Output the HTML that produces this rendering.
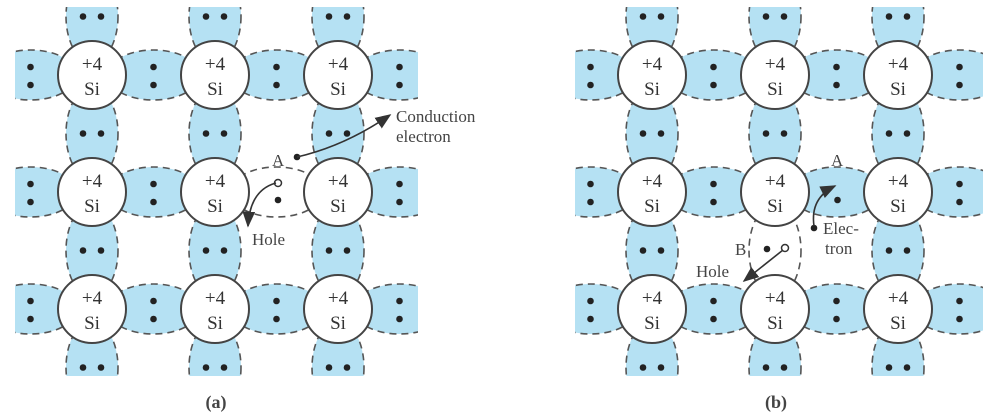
<!DOCTYPE html>
<html><head><meta charset="utf-8"><style>
html,body{margin:0;padding:0;background:#fff;}
svg{display:block;font-family:"Liberation Serif",serif;}
</style></head><body>
<svg id="s" width="991" height="416" viewBox="0 0 991 416">
<defs>
<clipPath id="ca"><rect x="15" y="7" width="403" height="369"/></clipPath>
<clipPath id="cb"><rect x="575" y="7" width="408" height="369"/></clipPath>
<marker id="ah" markerWidth="10" markerHeight="8" refX="9" refY="4" orient="auto"><path d="M0,0 L10,4 L0,8 Z" fill="#333"/></marker>
</defs>
</svg>
<script>
const NS='http://www.w3.org/2000/svg';
const svg=document.getElementById('s');
const panelCols=[[92,215,338],[652,775,898]];
const rows=[75,192,309];
const panelNames=['panel-a','panel-b'];
const clips=['ca','cb'];
const BLUE='#b5e1f3',STROKE='#555';
function mk(tag,attrs,parent){const e=document.createElementNS(NS,tag);for(const k in attrs)e.setAttribute(k,attrs[k]);(parent||svg).appendChild(e);return e;}
function dot(x,y,g){const d=mk('circle',{cx:x,cy:y,r:3.3,fill:'#222'},g);

}
function isMissing(p,type,i,j){
  if(p===0&&type==='h'&&i===2&&j===1)return true;
  if(p===1&&type==='v'&&i===1&&j===2)return true;
  return false;
}
panelCols.forEach((cols,p)=>{
  const g=mk('g',{'clip-path':'url(#'+clips[p]+')'});
  
  
  const dx=cols[1]-cols[0], dy=rows[1]-rows[0];
  rows.forEach((y,j)=>{
    for(let i=0;i<=cols.length;i++){
      const x=cols[0]-dx/2+i*dx;
      const miss=isMissing(p,'h',i,j);
      const e=mk('ellipse',{cx:x,cy:y,rx:46,ry:25,fill:miss?'#fff':BLUE,stroke:STROKE,'stroke-width':1.6,'stroke-dasharray':'7 5'},g);
      
      
      if(p===1&&i===2&&j===1){dot(x+1,y+8,g);}
      else if(!miss){dot(x,y-8,g);dot(x,y+10,g);}
    }
  });
  cols.forEach((x,i)=>{
    for(let j=0;j<=rows.length;j++){
      const y=rows[0]-dy/2+j*dy;
      const miss=isMissing(p,'v',i,j);
      const e=mk('ellipse',{cx:x,cy:y,rx:26,ry:46,fill:miss?'#fff':BLUE,stroke:STROKE,'stroke-width':1.6,'stroke-dasharray':'7 5'},g);
      
      
      if(!miss){dot(x-9,y,g);dot(x+9,y,g);}
    }
  });
  rows.forEach(y=>cols.forEach(x=>{
    const a=mk('g',{},g);
    
    
    mk('circle',{cx:x,cy:y,r:34,fill:'#fff',stroke:'#444','stroke-width':2},a);
    const t1=mk('text',{x:x,y:y-5,'text-anchor':'middle','font-size':19,fill:'#333'},a);t1.textContent='+4';
    const t2=mk('text',{x:x,y:y+20,'text-anchor':'middle','font-size':19,fill:'#333'},a);t2.textContent='Si';
  }));
});
function txt(x,y,s,name,size,anchor,weight){const t=mk('text',{x:x,y:y,'font-size':size||17,fill:'#444','text-anchor':anchor||'start','font-weight':weight||'normal'});t.textContent=s;

return t;}
function path(d,name){const e=mk('path',{d:d,fill:'none',stroke:'#333','stroke-width':1.6,'marker-end':'url(#ah)'});

}
function holeC(x,y){const h=mk('circle',{cx:x,cy:y,r:3.5,fill:'#fff',stroke:'#333','stroke-width':1.5});

}
dot(278,200);holeC(278,183);
txt(272,166,'A','label-a-panel-a',17);
dot(297,157);
path('M297,157 Q345,146 390,115','conduction-electron-arrow');
txt(396,122,'Conduction','conduction-label',17);
txt(396,142,'electron','electron-label',17);
path('M276,183 Q250,190 248,226','hole-arrow-a');
txt(252,245,'Hole','hole-label-a',17);
dot(767,249);holeC(785,248);
txt(735,255,'B','label-b',17);
path('M783,250 L744,281','hole-arrow-b');
txt(696,277,'Hole','hole-label-b',17);
txt(831,166,'A','label-a-panel-b',17);
dot(814,228);
path('M814,226 Q810,198 835,186','electron-arrow-b');
txt(823,234,'Elec-','elec-label',17);
txt(825,254,'tron','tron-label',17);
txt(216,408,'(a)','caption-a',18,'middle','bold');
txt(776,408,'(b)','caption-b',18,'middle','bold');
</script>
</body></html>
